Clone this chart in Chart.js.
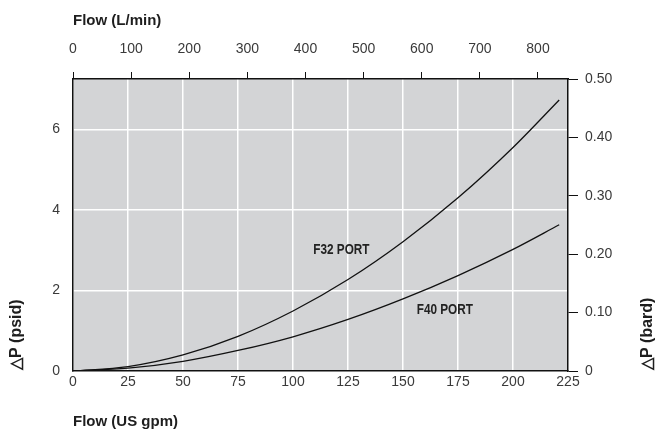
<!DOCTYPE html>
<html>
<head>
<meta charset="utf-8">
<script src="https://cdn.jsdelivr.net/npm/chart.js@4.4.1/dist/chart.umd.min.js"></script>
<style>
  html, body { margin: 0; padding: 0; background: #ffffff; }
  #wrap { width: 658px; height: 432px; position: relative; }
</style>
</head>
<body>
<div id="wrap"><canvas id="c" width="658" height="432"></canvas></div>
<script>
// ---- data ----
const flowGpm = [0, 25, 50, 75, 100, 125, 150, 175, 200, 221];
const f32Psi  = [0, 0.11, 0.40, 0.86, 1.49, 2.27, 3.21, 4.30, 5.55, 6.73];
const f40Psi  = [0, 0.07, 0.24, 0.51, 0.85, 1.28, 1.79, 2.37, 3.02, 3.63];
const seriesNames = ['F32 PORT', 'F40 PORT'];
const labelAt = [[122, 3.0], [169, 1.51]]; // label anchor in data units (gpm, psid)

const gpmMax = 225, gpmStep = 25;
const lpmPerGpm = 3.785, lpmStep = 100;
const psiMax = 7.25, psiStep = 2;
const barMax = 0.5, barStep = 0.1;

const titleTop = 'Flow (L/min)';
const titleBottom = 'Flow (US gpm)';
const titleLeft = '\u25B3P (psid)';
const titleRight = '\u25B3P (bard)';

const tickFont = { family: "'Liberation Sans Narrow', 'Liberation Sans', Arial, sans-serif", size: 14 };
const tickColor = '#3a3a3a';
const titleFontStr = "bold 15px 'Liberation Sans', Arial, sans-serif";
const sideTitleFontStr = "bold 16px 'Liberation Sans', Arial, sans-serif";

const bgPlugin = {
  id: 'bg',
  beforeDraw(chart) {
    const { ctx, chartArea: a } = chart;
    ctx.save();
    ctx.fillStyle = '#d3d4d6';
    ctx.fillRect(a.left, a.top, a.right - a.left, a.bottom - a.top);
    ctx.restore();
  }
};

const textPlugin = {
  id: 'texts',
  afterDatasetsDraw(chart) {
    const { ctx } = chart;
    const xs = chart.scales.x, ys = chart.scales.y;
    ctx.save();
    ctx.fillStyle = '#222';
    ctx.font = "bold 14px 'Liberation Sans', Arial, sans-serif";
    ctx.textAlign = 'center';
    ctx.textBaseline = 'middle';
    seriesNames.forEach((n, i) => {
      ctx.save();
      ctx.translate(xs.getPixelForValue(labelAt[i][0]), ys.getPixelForValue(labelAt[i][1]));
      ctx.scale(0.84, 1);
      ctx.fillText(n, 0, 0);
      ctx.restore();
    });
    ctx.restore();
  },
  afterDraw(chart) {
    const { ctx, chartArea: a } = chart;
    ctx.save();
    ctx.fillStyle = '#1e1e1e';
    ctx.font = titleFontStr;
    ctx.textBaseline = 'middle';
    ctx.textAlign = 'left';
    ctx.fillText(titleTop, a.left, 21);
    ctx.fillText(titleBottom, a.left, 422);
    ctx.font = sideTitleFontStr;
    ctx.save();
    ctx.translate(17, a.bottom - 1);
    ctx.rotate(-Math.PI / 2);
    ctx.fillText(titleLeft, 0, 0);
    ctx.restore();
    ctx.save();
    ctx.translate(648, a.bottom - 1);
    ctx.rotate(-Math.PI / 2);
    ctx.fillText(titleRight, 0, 0);
    ctx.restore();
    ctx.restore();
  }
};

function fix(size, prop) { return (s) => { s[prop] = size; }; }

new Chart(document.getElementById('c'), {
  type: 'line',
  data: {
    datasets: [
      { label: seriesNames[0], data: flowGpm.map((x, i) => ({ x, y: f32Psi[i] })), xAxisID: 'x', yAxisID: 'y' },
      { label: seriesNames[1], data: flowGpm.map((x, i) => ({ x, y: f40Psi[i] })), xAxisID: 'x', yAxisID: 'y' }
    ].map(d => Object.assign(d, {
      borderColor: '#111', borderWidth: 1.3, pointRadius: 0, fill: false,
      cubicInterpolationMode: 'monotone'
    }))
  },
  options: {
    responsive: false,
    animation: false,
    devicePixelRatio: 1,
    layout: { padding: 0 },
    plugins: { legend: { display: false }, tooltip: { enabled: false } },
    scales: {
      x: {
        type: 'linear', position: 'bottom', min: 0, max: gpmMax,
        afterFit: fix(61, 'height'),
        ticks: { stepSize: gpmStep, font: tickFont, color: tickColor, padding: 3, maxRotation: 0 },
        grid: { color: '#ffffff', lineWidth: 1.5, drawTicks: false },
        border: { color: '#111', width: 1.5 }
      },
      x2: {
        type: 'linear', position: 'top', min: 0, max: gpmMax * lpmPerGpm,
        afterFit: fix(79, 'height'),
        ticks: { stepSize: lpmStep, includeBounds: false, font: tickFont, color: tickColor, padding: 14, maxRotation: 0 },
        grid: { drawOnChartArea: false, drawTicks: true, tickLength: 7, color: '#111', lineWidth: 1 },
        border: { color: '#111', width: 1.5 }
      },
      y: {
        type: 'linear', position: 'left', min: 0, max: psiMax,
        afterFit: fix(73, 'width'),
        ticks: { stepSize: psiStep, includeBounds: false, font: tickFont, color: tickColor, padding: 13 },
        grid: { color: '#ffffff', lineWidth: 1.5, drawTicks: false },
        border: { color: '#111', width: 1.5 }
      },
      y2: {
        type: 'linear', position: 'right', min: 0, max: barMax,
        afterFit: fix(90, 'width'),
        ticks: { stepSize: barStep, font: tickFont, color: tickColor, padding: 7,
          callback: v => (Math.abs(v) < 1e-9 ? '0' : v.toFixed(2)) },
        grid: { drawOnChartArea: false, drawTicks: true, tickLength: 10, color: '#111', lineWidth: 1 },
        border: { color: '#111', width: 1.5 }
      }
    }
  },
  plugins: [bgPlugin, textPlugin]
});
</script>
</body>
</html>
